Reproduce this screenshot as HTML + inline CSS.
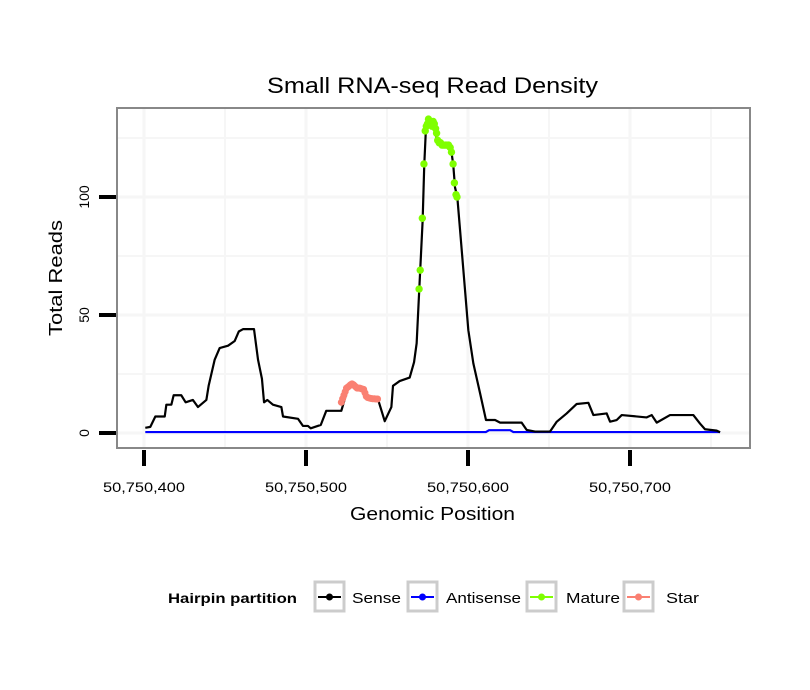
<!DOCTYPE html>
<html><head><meta charset="utf-8"><style>
body{margin:0;background:#fff;}
svg{display:block;font-family:"Liberation Sans",Arial,sans-serif;}
</style></head><body>
<svg id="chart" width="810" height="690" xmlns="http://www.w3.org/2000/svg">
<rect width="810" height="690" fill="#fff"/>
<text x="267" y="93" font-size="22" textLength="331" lengthAdjust="spacingAndGlyphs">Small RNA-seq Read Density</text>
<g id="grid"></g>
<g id="series"></g>
<rect x="117" y="108" width="633" height="340" fill="none" stroke="#888" stroke-width="2"/>
<g id="axes"></g>
<text x="350" y="520" font-size="18" textLength="165" lengthAdjust="spacingAndGlyphs">Genomic Position</text>
<text transform="translate(62,336) rotate(-90)" font-size="18" textLength="116" lengthAdjust="spacingAndGlyphs">Total Reads</text>
<g>
<text x="168" y="603" font-size="14" font-weight="bold" textLength="129" lengthAdjust="spacingAndGlyphs">Hairpin partition</text>
<g>
<rect x="315" y="582" width="29" height="29" fill="#fff" stroke="#ccc" stroke-width="3"/>
<line x1="318" y1="597" x2="341" y2="597" stroke="#000" stroke-width="2"/><circle cx="329.5" cy="597" r="3.5" fill="#000"/>
<text x="352" y="603" font-size="15" textLength="49" lengthAdjust="spacingAndGlyphs">Sense</text></g>
<g>
<rect x="408" y="582" width="29" height="29" fill="#fff" stroke="#ccc" stroke-width="3"/>
<line x1="411" y1="597" x2="434" y2="597" stroke="#00f" stroke-width="2"/><circle cx="422.5" cy="597" r="3.5" fill="#00f"/>
<text x="446" y="603" font-size="15" textLength="75" lengthAdjust="spacingAndGlyphs">Antisense</text></g>
<g>
<rect x="527" y="582" width="29" height="29" fill="#fff" stroke="#ccc" stroke-width="3"/>
<line x1="530" y1="597" x2="553" y2="597" stroke="#7fff00" stroke-width="2"/><circle cx="541.5" cy="597" r="3.5" fill="#7fff00"/>
<text x="566" y="603" font-size="15" textLength="54" lengthAdjust="spacingAndGlyphs">Mature</text></g>
<g>
<rect x="624" y="582" width="29" height="29" fill="#fff" stroke="#ccc" stroke-width="3"/>
<line x1="627" y1="597" x2="650" y2="597" stroke="#fa8072" stroke-width="2"/><circle cx="638.5" cy="597" r="3.5" fill="#fa8072"/>
<text x="666" y="603" font-size="15" textLength="33" lengthAdjust="spacingAndGlyphs">Star</text></g>
</g>
</svg>
<script>
const BASE = 50750400;
const xTicks = [0, 100, 200, 300];
const xTickLabels = ["50,750,400","50,750,500","50,750,600","50,750,700"];
const yTicks = [0, 50, 100];
const yTickLabels = ["0","50","100"];
const sensePos = [0.8,3.9,7,12.8,13.8,16.9,18.3,23,25.7,30.2,33.3,38.5,39.9,43.6,46.7,51.9,56,58.5,61.1,67.9,70.4,72.8,74.1,76.1,79.6,84.8,85.8,95.1,98.1,101.2,102.9,109.1,112.5,121.8,125.9,129,132.1,136.2,137.2,144.4,148.6,152.7,153.7,157.8,164,166.7,168.3,169.9,172,173,174.1,176.5,179.6,181,187.8,189.9,190.9,192,193.4,195.1,200.2,203.3,207.4,211.1,216.7,219.8,233.1,236.2,241.4,250.6,254.8,260.9,267.1,274.3,277.4,285.6,287.7,291.8,294.9,310.3,313.4,316.5,324.7,339.1,343.2,346.3,353.5,355.6];
const senseVal = [2.2,2.6,7,7,12,12,16,16,13,14,11,14,20,31,36,37,39,43,44,44,31,23,13,14,12,11,7,6,3,3,2,3.4,9.4,9.4,19,21,19,18.6,15,14.4,5,11,20,22,23.5,30,38,60.6,90,113.6,130,132,130,123,121,118.5,113.6,104,100,86,43.6,29.5,17,5.5,5.5,4.4,4.4,1.3,0.6,0.6,4.8,8.3,12.3,12.8,7.6,8.3,4.8,5.5,7.6,6.6,7.6,4.4,7.6,7.6,4,1.6,1,0.3];
const antiPos = [0.8,211,213,226,228,355.6];
const antiVal = [0.4,0.4,1.2,1.2,0.4,0.4];
const maturePos = [169.8,170.5,171.8,172.8,173.6,174.3,175,175.6,176.3,177,177.8,178.5,179.2,180,180.6,181.3,182.2,183,184,185,186,187,188,189,189.8,190.8,191.6,192.6,193.2];
const matureVal = [61,69,91,114,128,130,131,133,132,131,130,132,131,129,127,124,123,123,122,122,122,122,122,121,119,114,106,101,100];
const starPos = [121.8,122.6,123.4,124.2,125,125.9,126.8,127.6,128.4,129.2,130,130.8,131.6,132.4,133.2,134,134.8,135.6,136.4,137.2,138.2,139.2,140.2,141.2,142.2,143.2,144.2];
const starVal = [13,14.5,16,17.5,19,19.5,20,20.5,20.8,20.5,20,19.5,19,19,19,18.8,18.6,18.5,17,15.5,15,14.8,14.6,14.5,14.5,14.4,14.4];

const x = v => 144 + v * 1.62;
const y = v => 433 - v * 2.36;
const NS = "http://www.w3.org/2000/svg";
function mk(tag, attrs, parent){const e=document.createElementNS(NS,tag);for(const k in attrs)e.setAttribute(k,attrs[k]);parent.appendChild(e);return e;}
const grid=document.getElementById('grid'), series=document.getElementById('series'), axes=document.getElementById('axes');
[0,25,50,75,100,125].forEach(v=>{const l=mk('line',{x1:118,x2:749,y1:y(v),y2:y(v),stroke:'#f6f6f6','stroke-width':v%50===0?3:2},grid);

});
[0,50,100,150,200,250,300,350].forEach(v=>{const l=mk('line',{x1:x(v),x2:x(v),y1:109,y2:447,stroke:'#f6f6f6','stroke-width':v%100===0?3:2},grid);

});
xTicks.forEach((v,i)=>{const t=mk('line',{x1:x(v),x2:x(v),y1:450,y2:466,stroke:'#000','stroke-width':4},axes);


const tx=mk('text',{x:x(v)-41,y:492,'font-size':14,textLength:82,lengthAdjust:'spacingAndGlyphs'},axes);tx.textContent=xTickLabels[i];

});
yTicks.forEach((v,i)=>{const t=mk('line',{x1:99,x2:116,y1:y(v),y2:y(v),stroke:'#000','stroke-width':4},axes);


const tx=mk('text',{transform:`translate(89,${y(v)}) rotate(-90)`,'font-size':14,'text-anchor':'middle'},axes);tx.textContent=yTickLabels[i];

});
function line(pos,val,color,name,w){const p=mk('polyline',{points:pos.map((p,i)=>x(p)+','+y(val[i])).join(' '),fill:'none',stroke:color,'stroke-width':w,'stroke-linejoin':'round'},series);

}
line(antiPos,antiVal,'#00f','antisense-line',2.2);
line(sensePos,senseVal,'#000','sense-line',2.2);
line(starPos,starVal,'#fa8072','star-line',3);
starPos.forEach((p,i)=>{const c=mk('circle',{cx:x(p),cy:y(starVal[i]),r:3.5,fill:'#fa8072'},series);

});
maturePos.forEach((p,i)=>{const c=mk('circle',{cx:x(p),cy:y(matureVal[i]),r:3.7,fill:'#7fff00'},series);

});
</script>
</body></html>
